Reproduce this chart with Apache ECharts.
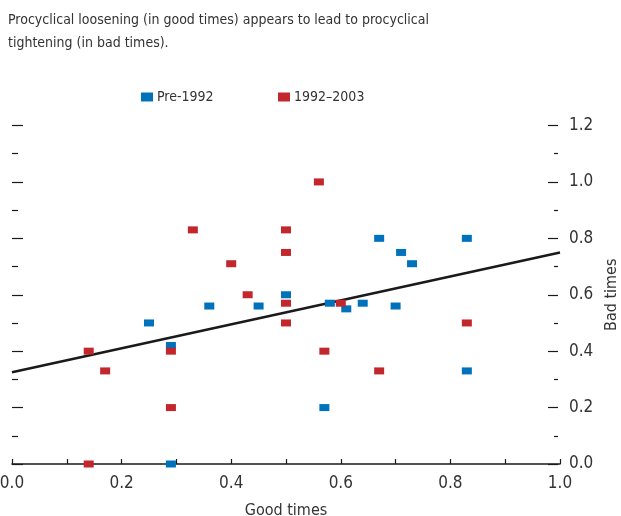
<!DOCTYPE html>
<html>
<head>
<meta charset="utf-8">
<script src="https://cdn.jsdelivr.net/npm/echarts@6/dist/echarts.min.js"></script>
<style>
  html, body { margin: 0; padding: 0; background: #fff; }
  #chart { width: 621px; height: 516px; }
</style>
</head>
<body>
<div id="chart"></div>
<script>
// Good-times loosening (x) vs bad-times tightening (y)
const pre1992Good = [0.25, 0.29, 0.29, 0.36, 0.45, 0.50, 0.57, 0.58, 0.61, 0.64, 0.67, 0.70, 0.71, 0.73, 0.83, 0.83];
const pre1992Bad  = [0.50, 0.42, 0.00, 0.56, 0.56, 0.60, 0.20, 0.57, 0.55, 0.57, 0.80, 0.56, 0.75, 0.71, 0.80, 0.33];

const recentGood = [0.14, 0.14, 0.17, 0.29, 0.29, 0.33, 0.40, 0.43, 0.50, 0.50, 0.50, 0.50, 0.56, 0.57, 0.60, 0.67, 0.83];
const recentBad  = [0.00, 0.40, 0.33, 0.40, 0.20, 0.83, 0.71, 0.60, 0.83, 0.75, 0.57, 0.50, 1.00, 0.40, 0.57, 0.33, 0.50];

// Fitted trend line end points
const fitGood = [0, 1];
const fitBad  = [0.325, 0.75];

const xTicks = [0, 0.2, 0.4, 0.6, 0.8, 1.0];
const yTicks = [0, 0.2, 0.4, 0.6, 0.8, 1.0, 1.2];

const seriesNames = ['Pre-1992', '1992–2003'];
const titleText = 'Procyclical loosening (in good times) appears to lead to procyclical\ntightening (in bad times).';

const FONT = '"Liberation Sans Narrow", "DejaVu Sans Condensed", "Roboto Condensed", sans-serif';
const TEXT = '#333333';
const INK = '#1a1a1a';
const BLUE = '#0072BC';
const RED = '#C1272D';

const zip = (a, b) => a.map((v, i) => [v, b[i]]);

const chart = echarts.init(document.getElementById('chart'), null, { renderer: 'canvas' });

const fmt = v => v.toFixed(1);
const tickLine = { color: INK, width: 1.2 };

chart.setOption({
  animation: false,
  backgroundColor: '#ffffff',
  textStyle: { fontFamily: FONT },
  title: {
    text: titleText,
    left: 8, top: 9, padding: 0,
    textStyle: { fontFamily: FONT, fontSize: 14, fontWeight: 'normal', color: TEXT, lineHeight: 23 }
  },
  legend: [
    {
      data: [seriesNames[0]], left: 141, top: 90, padding: 0,
      icon: 'rect', itemWidth: 12, itemHeight: 9, itemGap: 0,
      textStyle: { fontFamily: FONT, fontSize: 14, color: TEXT, padding: [0, 0, 0, -1] }
    },
    {
      data: [seriesNames[1]], left: 278, top: 90, padding: 0,
      icon: 'rect', itemWidth: 12, itemHeight: 9, itemGap: 0,
      textStyle: { fontFamily: FONT, fontSize: 14, color: TEXT, padding: [0, 0, 0, -1] }
    }
  ],
  grid: { left: 12, right: 61, top: 125.5, bottom: 52, containLabel: false, outerBoundsMode: 'none' },
  xAxis: {
    type: 'value', min: 0, max: 1, interval: 0.2,
    name: 'Good times', nameLocation: 'middle', nameGap: 39,
    nameTextStyle: { fontFamily: FONT, fontSize: 16, color: TEXT },
    axisLine: { show: true, onZero: false, lineStyle: { color: INK, width: 1.5 } },
    axisTick: { show: true, inside: true, length: 5, lineStyle: tickLine },
    minorTick: { show: true, splitNumber: 2, length: 5, lineStyle: tickLine },
    axisLabel: {
      fontFamily: FONT, fontSize: 17, color: TEXT, margin: 11,
      formatter: v => xTicks.some(t => Math.abs(t - v) < 1e-9) ? fmt(v) : ''
    },
    splitLine: { show: false }
  },
  yAxis: [
    {
      type: 'value', position: 'right', offset: -2, min: 0, max: 1.2, interval: 0.2,
      name: 'Bad times', nameLocation: 'middle', nameGap: 46, nameRotate: 90,
      nameTextStyle: { fontFamily: FONT, fontSize: 16, color: TEXT },
      axisLine: { show: false, onZero: false },
      axisTick: { show: true, inside: true, length: 10, lineStyle: tickLine },
      minorTick: { show: true, splitNumber: 2, length: 4, lineStyle: tickLine },
      axisLabel: {
        fontFamily: FONT, fontSize: 17, color: TEXT, margin: 11,
        formatter: v => yTicks.some(t => Math.abs(t - v) < 1e-9) ? fmt(v) : ''
      },
      splitLine: { show: false }
    },
    {
      type: 'value', position: 'left', min: 0, max: 1.2, interval: 0.2,
      axisLine: { show: false, onZero: false },
      axisTick: { show: true, inside: true, length: 11, lineStyle: tickLine },
      minorTick: { show: true, splitNumber: 2, length: 6, lineStyle: tickLine },
      axisLabel: { show: false },
      splitLine: { show: false }
    }
  ],
  series: [
    {
      name: 'trend', type: 'line', data: zip(fitGood, fitBad),
      showSymbol: false, symbol: 'none', silent: true, z: 3,
      lineStyle: { color: INK, width: 2.5 }
    },
    {
      name: seriesNames[0], type: 'scatter', data: zip(pre1992Good, pre1992Bad),
      symbol: 'rect', symbolSize: [10, 7], z: 4,
      itemStyle: { color: BLUE, opacity: 1 }
    },
    {
      name: seriesNames[1], type: 'scatter', data: zip(recentGood, recentBad),
      symbol: 'rect', symbolSize: [10, 7], z: 5,
      itemStyle: { color: RED, opacity: 1 }
    }
  ]
});
</script>
</body>
</html>
